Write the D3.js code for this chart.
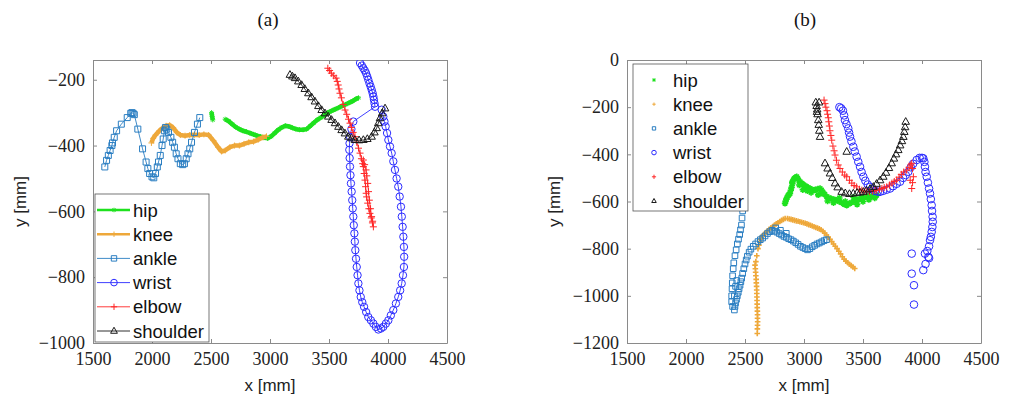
<!DOCTYPE html>
<html>
<head>
<meta charset="utf-8">
<script src="https://cdn.jsdelivr.net/npm/d3@7"></script>
<style>
  body { margin: 0; background: #fff; }
  .axlabel { font-family: "Liberation Sans", Arial, sans-serif; font-size: 17px; fill: #222; }
  .legtext { font-family: "Liberation Sans", Arial, sans-serif; font-size: 18.5px; fill: #111; }
  .title { font-family: "Liberation Serif", serif; font-size: 19px; fill: #111; }
</style>
</head>
<body>
<svg id="chart" width="1014" height="396"></svg>
<script>
// ---- data, panel (a): trajectories drawn with lines
var seriesNames = ["hip", "knee", "ankle", "wrist", "elbow", "shoulder"];
var xTicks = [1500, 2000, 2500, 3000, 3500, 4000, 4500];
var yTicksA = [-1000, -800, -600, -400, -200];
var yTicksB = [-1200, -1000, -800, -600, -400, -200, 0];

var hipA = [[2505,-300],[2510,-312],[2515,-322],null,
  [2620,-320],[2650,-326],[2680,-335],[2710,-344],[2740,-350],[2770,-355],[2800,-358],[2830,-362],
  [2860,-366],[2890,-370],[2920,-373],[2950,-376],[2980,-378],[3010,-372],[3040,-362],[3070,-352],
  [3100,-345],[3130,-340],[3160,-342],[3190,-346],[3220,-350],[3250,-352],[3280,-352],[3310,-350],
  [3340,-341],[3370,-331],[3400,-322],[3430,-315],[3460,-308],[3490,-300],[3520,-295],[3550,-290],
  [3580,-285],[3610,-280],[3640,-275],[3670,-270],[3700,-265],[3730,-258],[3750,-255]];
var kneeA = [[1995,-392],[2010,-378],[2030,-368],[2060,-356],[2090,-346],[2120,-340],[2150,-338],
  [2180,-346],[2210,-360],[2240,-368],[2280,-370],[2320,-368],[2360,-367],[2400,-368],[2440,-366],
  [2480,-368],[2520,-385],[2560,-405],[2590,-418],[2620,-415],[2660,-405],[2700,-400],[2740,-400],
  [2780,-395],[2820,-390],[2860,-388],[2900,-382],[2940,-375],[2970,-372]];
var ankleA = [[1600,-465],[1615,-445],[1630,-430],[1645,-415],[1660,-400],[1665,-392],[1680,-375],
  [1700,-355],[1740,-335],[1790,-315],[1820,-302],[1830,-300],[1840,-302],[1850,-306],[1880,-350],
  [1920,-410],[1950,-450],[1965,-470],[1980,-485],[2000,-495],[2015,-498],[2030,-485],[2045,-465],
  [2055,-450],[2070,-430],[2085,-400],[2095,-380],[2105,-355],[2115,-345],[2125,-350],[2140,-360],
  [2160,-375],[2175,-390],[2190,-405],[2205,-425],[2220,-440],[2240,-455],[2260,-458],[2275,-455],
  [2290,-440],[2305,-425],[2320,-410],[2335,-390],[2360,-360],[2385,-335],[2405,-315]];
var wristA = [[3763,-149],[3778,-157],[3791,-165],[3803,-172],[3814,-180],[3824,-190],[3833,-200],
  [3843,-211],[3853,-221],[3862,-231],[3870,-241],[3876,-251],[3881,-261],[3886,-272],[3890,-282],
  [3706,-327],[3690,-350],[3678,-373],[3674,-393],[3672,-413],[3675,-438],[3678,-464],[3682,-490],
  [3686,-515],[3692,-540],[3697,-566],[3701,-591],[3706,-616],[3710,-642],[3715,-667],[3719,-692],
  [3723,-718],[3729,-744],[3735,-769],[3742,-794],[3749,-819],[3758,-840],[3769,-860],[3782,-876],
  [3797,-890],[3815,-906],[3833,-921],[3855,-931],[3876,-941],[3897,-951],[3918,-959],[3940,-956],
  [3960,-951],[3982,-941],[4003,-931],[4024,-916],[4045,-900],[4067,-880],[4087,-860],[4103,-840],
  [4116,-819],[4127,-794],[4135,-769],[4137,-738],[4135,-708],[4130,-677],[4124,-647],[4117,-616],
  [4110,-586],[4099,-555],[4087,-525],[4073,-500],[4059,-474],[4045,-448],[4031,-423],[4017,-403],
  [4003,-383],[3992,-362],[3980,-342],[3970,-327],[3960,-312],[3946,-291]];
var elbowA = [[3490,-165],[3505,-172],[3520,-180],[3540,-188],[3560,-195],[3570,-205],[3578,-216],
  [3585,-228],[3593,-241],[3605,-255],[3620,-275],[3636,-292],[3650,-305],[3665,-320],[3678,-332],
  [3690,-345],[3705,-360],[3720,-373],[3735,-390],[3750,-408],[3763,-423],[3775,-440],[3785,-455],
  [3791,-464],[3798,-485],[3805,-505],[3810,-525],[3815,-545],[3819,-556],[3828,-575],[3838,-592],
  [3847,-606],[3858,-620],[3868,-635],[3876,-647],[3870,-630],[3861,-616],[3852,-592],[3842,-566],
  [3835,-540],[3828,-515],[3820,-492],[3814,-474],[3802,-458],[3791,-444]];
var shoulderA = [[3169,-185],[3190,-190],[3212,-195],[3240,-205],[3268,-216],[3295,-228],[3325,-241],
  [3352,-253],[3381,-266],[3410,-280],[3438,-292],[3466,-302],[3494,-312],[3522,-322],[3551,-332],
  [3580,-343],[3607,-353],[3635,-363],[3664,-373],[3690,-378],[3720,-383],[3755,-384],[3791,-383],
  [3825,-380],[3861,-373],[3885,-360],[3904,-347],[3918,-332],[3932,-317],[3950,-302],[3975,-287]];

// ---- data, panel (b): scattered samples
var hipB = [[2839,-608],[2845,-598],[2850,-590],[2858,-582],[2865,-575],[2873,-570],[2881,-566],
  [2888,-552],[2895,-540],[2902,-525],[2909,-509],[2917,-503],[2925,-500],[2932,-497],[2938,-495],
  [2946,-502],[2955,-510],[2968,-517],[2980,-523],[2990,-527],[3000,-530],[3012,-535],[3023,-538],
  [3036,-542],[3050,-545],[3065,-549],[3079,-552],[3090,-551],[3100,-550],[3118,-547],[3136,-545],
  [3148,-552],[3160,-560],[3176,-570],[3192,-580],[3210,-584],[3230,-588],[3253,-591],[3277,-594],
  [3298,-600],[3320,-605],[3340,-611],[3362,-616],[3380,-610],[3400,-605],[3423,-600],[3446,-594],
  [3468,-589],[3490,-585],[3510,-582],[3531,-580],[3553,-578],[3575,-577],[3595,-575],[3616,-573],
  [2990,-550],[3060,-562],[3120,-572],[3200,-598],[3300,-585],[3420,-582],[3500,-600],[3450,-612],
  [2900,-518],[2960,-530],[3030,-555],[3150,-565],[3250,-605],[3350,-600],[3550,-592],[3600,-585]];
var kneeB = [[2585,-870],[2590,-900],[2595,-930],[2598,-960],[2600,-990],[2602,-1020],[2604,-1050],
  [2606,-1080],[2607,-1110],[2605,-1140],[2604,-1160],[2592,-855],[2600,-830],[2610,-800],
  [2618,-785],[2625,-770],[2632,-760],[2640,-750],[2650,-745],[2660,-740],[2675,-732],[2690,-725],
  [2705,-718],[2720,-712],[2735,-706],[2750,-700],[2765,-695],[2780,-690],[2795,-685],[2810,-680],
  [2825,-676],[2840,-672],[2860,-672],[2875,-674],[2890,-676],[2905,-678],[2920,-680],[2935,-682],
  [2950,-684],[2965,-686],[2980,-688],[2995,-690],[3010,-692],[3025,-695],[3040,-698],[3055,-701],
  [3070,-704],[3085,-707],[3100,-710],[3115,-713],[3130,-716],[3145,-720],[3160,-726],[3175,-734],
  [3190,-742],[3205,-751],[3220,-760],[3235,-770],[3250,-780],[3265,-790],[3280,-800],[3295,-811],
  [3310,-822],[3325,-834],[3340,-845],[3355,-853],[3370,-860],[3385,-866],[3400,-872],[3415,-878],
  [3430,-884],[2588,-885],[2592,-915],[2596,-945],[2599,-975],[2601,-1005],[2603,-1035],[2605,-1065],
  [2606,-1095],[2606,-1125]];
var ankleB = [[2480,-640],[2475,-670],[2470,-700],[2462,-720],[2455,-740],[2445,-760],[2435,-780],
  [2425,-805],[2415,-830],[2405,-860],[2400,-885],[2395,-915],[2392,-945],[2390,-970],[2387,-1000],
  [2387,-1025],[2395,-1045],[2410,-1060],[2415,-1045],[2420,-1030],[2428,-1015],[2435,-1000],
  [2443,-985],[2450,-970],[2458,-955],[2465,-940],[2472,-925],[2480,-905],[2490,-885],[2500,-865],
  [2510,-848],[2520,-832],[2535,-815],[2550,-802],[2570,-790],[2590,-780],[2610,-770],[2630,-762],
  [2650,-755],[2670,-746],[2690,-736],[2710,-728],[2730,-722],[2750,-726],[2770,-730],[2790,-736],
  [2810,-742],[2830,-748],[2850,-752],[2870,-758],[2890,-762],[2910,-768],[2930,-775],[2950,-782],
  [2970,-790],[2990,-795],[3010,-800],[3030,-805],[3050,-800],[3070,-792],[3090,-786],[3110,-780],
  [3130,-776],[3150,-771],[3170,-766],[3190,-762],[2760,-712],[2800,-722],[2850,-735],[2430,-935],
  [2420,-960],[2410,-1000]];
var wristB = [[3300,-200],[3315,-205],[3330,-215],[3340,-235],[3347,-255],[3360,-272],[3375,-290],
  [3382,-308],[3390,-325],[3402,-345],[3418,-368],[3430,-388],[3446,-410],[3460,-432],[3475,-453],
  [3488,-475],[3503,-495],[3520,-512],[3540,-528],[3559,-538],[3580,-548],[3600,-555],[3625,-558],
  [3644,-559],[3670,-555],[3700,-550],[3729,-545],[3755,-535],[3785,-525],[3814,-516],[3840,-500],
  [3862,-488],[3884,-474],[3905,-455],[3925,-440],[3955,-424],[3980,-415],[4000,-415],[4011,-417],
  [4020,-432],[4025,-453],[4030,-475],[4040,-495],[4050,-520],[4060,-545],[4068,-566],[4075,-590],
  [4082,-616],[4085,-640],[4090,-665],[4091,-686],[4088,-708],[4082,-729],[4075,-750],[4068,-764],
  [4060,-790],[4054,-835],[4025,-821],[4011,-891],[4030,-865],[3913,-821],[3913,-906],[3932,-955],
  [3932,-1037],[4045,-810],[4060,-840]];
var elbowB = [[3170,-170],[3178,-185],[3185,-200],[3195,-215],[3200,-230],[3206,-245],[3210,-262],
  [3215,-280],[3220,-300],[3228,-320],[3235,-340],[3245,-365],[3255,-385],[3263,-403],[3275,-425],
  [3290,-445],[3305,-460],[3325,-475],[3345,-488],[3362,-495],[3385,-510],[3405,-522],[3425,-532],
  [3446,-538],[3470,-548],[3490,-552],[3510,-556],[3531,-559],[3555,-558],[3580,-556],[3600,-553],
  [3616,-552],[3640,-548],[3660,-545],[3680,-541],[3701,-538],[3725,-530],[3745,-522],[3765,-515],
  [3785,-509],[3805,-497],[3825,-485],[3845,-475],[3870,-467],[3890,-455],[3905,-445],[3913,-438],
  [3920,-460],[3927,-495],[3920,-520],[3913,-545],[3900,-510]];
var shoulderB = [[3100,-180],[3107,-195],[3112,-210],[3115,-230],[3121,-255],[3125,-275],[3130,-300],
  [3136,-326],[3110,-220],[3128,-180],[3362,-389],[3178,-438],[3200,-460],[3220,-481],[3240,-500],
  [3263,-523],[3285,-540],[3319,-559],[3350,-565],[3385,-568],[3418,-566],[3450,-563],[3475,-562],
  [3503,-559],[3530,-553],[3560,-546],[3588,-538],[3615,-525],[3645,-510],[3672,-495],[3695,-478],
  [3720,-458],[3743,-438],[3762,-418],[3780,-400],[3799,-382],[3815,-362],[3830,-344],[3842,-326],
  [3850,-305],[3857,-285],[3862,-262]];

// ---- styles per series
var colors = { hip: "#1ee11e", knee: "#eea83a", ankle: "#2a7ec2", wrist: "#2b2bff", elbow: "#ff2626", shoulder: "#1a1a1a" };
var markers = { hip: "star", knee: "plus", ankle: "square", wrist: "circle", elbow: "plus", shoulder: "triangle" };
var lineWidthA = { hip: 4.5, knee: 4.5, ankle: 0.9, wrist: 0.9, elbow: 0.9, shoulder: 0.9 };
var sizeA = { hip: 2.5, knee: 3, ankle: 3, wrist: 3.7, elbow: 3.5, shoulder: 4.2 };
var sizeB = { hip: 3.2, knee: 2.8, ankle: 2.8, wrist: 3.8, elbow: 3.5, shoulder: 4.2 };
var strokeB = { hip: 1.6, knee: 1.6, ankle: 1, wrist: 1, elbow: 1, shoulder: 1 };

function markerPath(type, s) {
    if (type == "circle") return "M" + s + ",0A" + s + "," + s + " 0 1,1 " + (-s) + ",0A" + s + "," + s + " 0 1,1 " + s + ",0";
    if (type == "square") return "M" + (-s) + "," + (-s) + "h" + (2 * s) + "v" + (2 * s) + "h" + (-2 * s) + "Z";
    if (type == "triangle") return "M0," + (-s) + "L" + (s * 0.9) + "," + (s * 0.6) + "L" + (-s * 0.9) + "," + (s * 0.6) + "Z";
    if (type == "plus") return "M" + (-s) + ",0H" + s + "M0," + (-s) + "V" + s;
    // star
    var d = s * 0.7;
    return "M" + (-s) + ",0H" + s + "M0," + (-s) + "V" + s + "M" + (-d) + "," + (-d) + "L" + d + "," + d + "M" + (-d) + "," + d + "L" + d + "," + (-d);
}

var svg = d3.select("#chart");

function drawPanel(cfg) {
    var x = d3.scaleLinear().domain([1500, 4500]).range([cfg.left, cfg.right]);
    var y = d3.scaleLinear().domain(cfg.ydomain).range([cfg.bottom, cfg.top]);
    var g = svg.append("g");
    var fmt = d3.format("d");

    g.append("clipPath").attr("id", cfg.id + "-clip").append("rect")
        .attr("x", cfg.left).attr("y", cfg.top)
        .attr("width", cfg.right - cfg.left).attr("height", cfg.bottom - cfg.top);

    // -- axes on all four sides, ticks pointing inwards
    var axes = [
        { ax: d3.axisBottom(x).tickValues(xTicks).tickFormat(fmt).tickPadding(9), t: "translate(0," + cfg.bottom + ")" },
        { ax: d3.axisTop(x).tickValues(xTicks).tickFormat(""), t: "translate(0," + cfg.top + ")" },
        { ax: d3.axisLeft(y).tickValues(cfg.yticks).tickFormat(fmt).tickPadding(8), t: "translate(" + cfg.left + ",0)" },
        { ax: d3.axisRight(y).tickValues(cfg.yticks).tickFormat(""), t: "translate(" + cfg.right + ",0)" }
    ];
    axes.forEach(function(a) {
        var ag = g.append("g").attr("transform", a.t).call(a.ax.tickSizeInner(-4).tickSizeOuter(0));
        ag.select(".domain").attr("stroke", "#8a8a8a");
        ag.selectAll(".tick line").attr("stroke", "#8a8a8a");
        ag.selectAll(".tick text")
            .style("font-family", "'Liberation Serif', 'DejaVu Serif', serif")
            .style("font-size", "18px").style("fill", "#222");
    });

    var plot = g.append("g").attr("clip-path", "url(#" + cfg.id + "-clip)");
    var line = d3.line().defined(function(d) { return d != null; })
        .x(function(d) { return x(d[0]); }).y(function(d) { return y(d[1]); });

    seriesNames.forEach(function(name, i) {
        var data = cfg.data[i];
        var sg = plot.append("g").attr("class", "series " + name);
        if (cfg.lines) {
            sg.append("path").datum(data).attr("d", line)
                .attr("fill", "none").attr("stroke", colors[name])
                .attr("stroke-width", lineWidthA[name]).attr("stroke-linejoin", "round");
        }
        sg.selectAll(".mk").data(data.filter(function(d) { return d != null; }))
            .enter().append("path").attr("class", "mk")
            .attr("transform", function(d) { return "translate(" + x(d[0]) + "," + y(d[1]) + ")"; })
            .attr("d", markerPath(markers[name], cfg.sizes[name]))
            .attr("fill", "none").attr("stroke", colors[name]).attr("stroke-width", cfg.strokes ? cfg.strokes[name] : 1);
    });

    // -- labels
    g.append("text").attr("class", "axlabel").attr("text-anchor", "middle")
        .attr("x", (cfg.left + cfg.right) / 2).attr("y", 391).text("x [mm]");
    g.append("text").attr("class", "axlabel").attr("text-anchor", "middle")
        .attr("transform", "translate(" + cfg.ylabX + "," + ((cfg.top + cfg.bottom) / 2) + ") rotate(-90)")
        .text("y [mm]");
    g.append("text").attr("class", "title").attr("text-anchor", "middle")
        .attr("x", cfg.titleX).attr("y", 26).text(cfg.title);

    // -- legend
    var L = cfg.legend;
    var lg = g.append("g");
    lg.append("rect").attr("x", L.x).attr("y", L.y).attr("width", L.w).attr("height", L.h)
        .attr("fill", "#fff").attr("stroke", "#555").attr("stroke-width", 0.8);
    seriesNames.forEach(function(name, i) {
        var yy = L.y + 16 + i * 24.2;
        if (cfg.lines) {
            lg.append("line").attr("x1", L.x + 2).attr("x2", L.x + 35).attr("y1", yy).attr("y2", yy)
                .attr("stroke", colors[name]).attr("stroke-width", Math.min(lineWidthA[name], 2.5));
        }
        lg.append("path").attr("transform", "translate(" + (L.x + L.mx) + "," + yy + ")")
            .attr("d", markerPath(markers[name], cfg.sizes[name] * L.ms))
            .attr("fill", "none").attr("stroke", colors[name]).attr("stroke-width", 1);
        lg.append("text").attr("class", "legtext").attr("x", L.x + L.tx).attr("y", yy + 6.5).text(name);
    });
}

drawPanel({
    id: "a", left: 93, right: 447, top: 60, bottom: 343, ydomain: [-1000, -140], yticks: yTicksA,
    data: [hipA, kneeA, ankleA, wristA, elbowA, shoulderA], lines: true, sizes: sizeA,
    ylabX: 26, title: "(a)", titleX: 268,
    legend: { x: 95, y: 194, w: 114, h: 148, mx: 19, tx: 38, ms: 0.9 }
});
drawPanel({
    id: "b", left: 627, right: 981, top: 60, bottom: 343, ydomain: [-1200, 0], yticks: yTicksB,
    data: [hipB, kneeB, ankleB, wristB, elbowB, shoulderB], lines: false, sizes: sizeB, strokes: strokeB,
    ylabX: 560, title: "(b)", titleX: 805,
    legend: { x: 633, y: 64, w: 115, h: 147, mx: 21, tx: 40, ms: 0.6 }
});
</script>
</body>
</html>
